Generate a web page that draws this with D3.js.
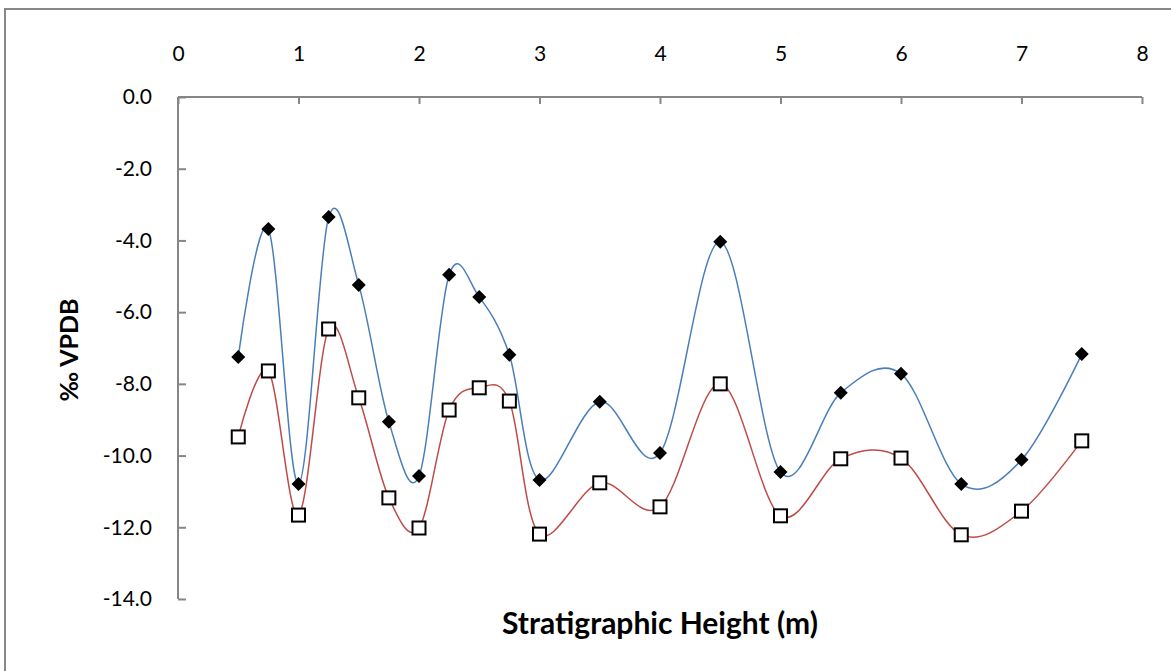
<!DOCTYPE html>
<html>
<head>
<meta charset="utf-8">
<script src="https://cdn.jsdelivr.net/npm/d3@7"></script>
<style>
  body { margin: 0; background: #fff; }
  text { font-family: Lato, "Open Sans", sans-serif; fill: #000; }
</style>
</head>
<body>
<script>
// stratigraphic height (m)
var heights = [0.5, 0.75, 1.0, 1.25, 1.5, 1.75, 2.0, 2.25, 2.5, 2.75, 3.0, 3.5, 4.0, 4.5, 5.0, 5.5, 6.0, 6.5, 7.0, 7.5];
// diamond series (blue line)
var seriesA = [-7.25, -3.68, -10.79, -3.35, -5.24, -9.06, -10.57, -4.96, -5.58, -7.19, -10.68, -8.5, -9.93, -4.04, -10.46, -8.25, -7.72, -10.79, -10.12, -7.17];
// square series (red line)
var seriesB = [-9.48, -7.64, -11.66, -6.47, -8.39, -11.18, -12.02, -8.73, -8.11, -8.48, -12.19, -10.76, -11.43, -8.0, -11.68, -10.09, -10.07, -12.21, -11.55, -9.59];
var xTicks = [0, 1, 2, 3, 4, 5, 6, 7, 8];
var yTicks = [0, -2, -4, -6, -8, -10, -12, -14];

var width = 1171, height = 671;
var svg = d3.select("body").append("svg")
    .attr("width", width)
    .attr("height", height);

// outer chart border
svg.append("rect")
    .attr("x", 5).attr("y", 9)
    .attr("width", 1180).attr("height", 680)
    .attr("fill", "none")
    .attr("stroke", "#888")
    .attr("stroke-width", 2);

var x = d3.scaleLinear().domain([0, 8]).range([178, 1142]);
var y = d3.scaleLinear().domain([0, -14]).range([97, 599]);

var axisColor = "#868686";

// top x axis
var gx = svg.append("g")
    .attr("transform", "translate(0," + y(0) + ")")
    .call(d3.axisTop(x).tickValues(xTicks).tickSize(-7).tickPadding(0).tickFormat(d3.format("d")));
gx.select(".domain").attr("stroke", axisColor).attr("stroke-width", 2).attr("d", "M" + x(0) + ",0H" + x(8));
gx.selectAll(".tick line").attr("stroke", axisColor).attr("stroke-width", 2);
gx.selectAll(".tick text")
    .attr("y", -36)
    .style("font-size", "21px")
    .style("font-family", "Lato, 'Open Sans', sans-serif")
    .attr("fill", "#000");

// left y axis; plain hyphen as minus sign
var yFmt = function (d) { return d.toFixed(1); };
var gy = svg.append("g")
    .attr("transform", "translate(" + x(0) + ",0)")
    .call(d3.axisLeft(y).tickValues(yTicks).tickSize(-8).tickPadding(0).tickFormat(yFmt));
gy.select(".domain").attr("stroke", axisColor).attr("stroke-width", 2).attr("d", "M0," + y(0) + "V" + y(-14));
gy.selectAll(".tick line").attr("stroke", axisColor).attr("stroke-width", 2);
gy.selectAll(".tick text")
    .attr("x", -26)
    .style("font-size", "21px")
    .style("font-family", "Lato, 'Open Sans', sans-serif")
    .attr("fill", "#000");

// smoothed lines
var line = d3.line().curve(d3.curveCardinal.tension(0));
function pts(vals) {
    return heights.map(function (h, i) { return [x(h), y(vals[i])]; });
}
svg.append("path")
    .attr("d", line(pts(seriesA)))
    .attr("fill", "none")
    .attr("stroke", "#4a7ebb")
    .attr("stroke-width", 1.5);
svg.append("path")
    .attr("d", line(pts(seriesB)))
    .attr("fill", "none")
    .attr("stroke", "#be4b48")
    .attr("stroke-width", 1.5);

// markers
svg.append("g").selectAll("path")
    .data(pts(seriesA))
    .enter().append("path")
    .attr("d", d3.symbol().type(d3.symbolSquare).size(98))
    .attr("transform", function (d) { return "translate(" + d[0] + "," + d[1] + ") rotate(45)"; })
    .attr("fill", "#000");

svg.append("g").selectAll("rect")
    .data(pts(seriesB))
    .enter().append("rect")
    .attr("x", function (d) { return d[0] - 6.5; })
    .attr("y", function (d) { return d[1] - 6.5; })
    .attr("width", 13).attr("height", 13)
    .attr("fill", "#fff")
    .attr("stroke", "#000")
    .attr("stroke-width", 2);

// axis titles
svg.append("text")
    .attr("x", 660).attr("y", 634)
    .attr("text-anchor", "middle")
    .style("font-size", "30px")
    .style("font-weight", "bold")
    .text("Stratigraphic Height (m)");

svg.append("text")
    .attr("transform", "translate(78,350) rotate(-90)")
    .attr("text-anchor", "middle")
    .style("font-size", "25px")
    .style("font-weight", "bold")
    .text("‰ VPDB");
</script>
</body>
</html>
